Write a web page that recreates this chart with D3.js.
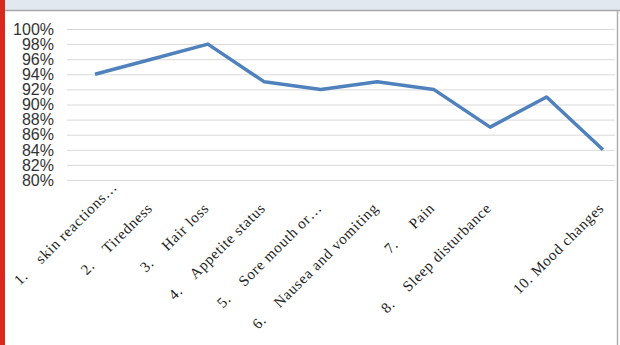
<!DOCTYPE html>
<html>
<head>
<meta charset="utf-8">
<script src="https://cdn.jsdelivr.net/npm/d3@7"></script>
<style>
  html, body { margin: 0; padding: 0; background: #fff; }
  svg { display: block; }
</style>
</head>
<body>
<div id="chart"></div>
<script>
// Categories (label 9 is blank in the original chart)
const categories = [
    "1.    skin reactions\u2026",
    "2.    Tiredness",
    "3.    Hair loss",
    "4.    Appetite status",
    "5.    Sore mouth or\u2026",
    "6.    Nausea and vomiting",
    "7.     Pain",
    "8.    Sleep disturbance",
    "",
    "10. Mood changes"
];
const values = [0.94, 0.96, 0.98, 0.93, 0.92, 0.93, 0.92, 0.87, 0.91, 0.84];
const yTicks = [0.80, 0.82, 0.84, 0.86, 0.88, 0.90, 0.92, 0.94, 0.96, 0.98, 1.00];

function drawChart() {
    const W = 620, H = 345;
    const svg = d3.select("#chart").append("svg")
        .attr("width", W)
        .attr("height", H);

    // window frame bits
    svg.append("rect").attr("x", 0).attr("y", 0).attr("width", W).attr("height", 10)
        .attr("fill", "#e2e8f0");
    svg.append("line").attr("x1", 0).attr("x2", W).attr("y1", 10.5).attr("y2", 10.5)
        .attr("stroke", "#a6a6a6").attr("stroke-width", 1.5);
    svg.append("rect").attr("x", 0).attr("y", 0).attr("width", 5).attr("height", H)
        .attr("fill", "#d62a1c");
    svg.append("line").attr("x1", 617.5).attr("x2", 617.5).attr("y1", 10).attr("y2", H)
        .attr("stroke", "#b0b0b0").attr("stroke-width", 1.5);

    const x = d3.scalePoint()
        .domain(d3.range(categories.length))
        .range([95, 603]);

    const y = d3.scaleLinear()
        .domain([0.80, 1.00])
        .range([180, 29]);

    // grid
    svg.append("g")
        .attr("transform", "translate(67,0)")
        .call(d3.axisRight(y).tickValues(yTicks).tickSize(548).tickFormat(""))
        .call(g => g.select(".domain").remove())
        .selectAll("line")
        .attr("stroke", "#d9d9d9");

    // y labels
    svg.append("g")
        .selectAll("text")
        .data(yTicks)
        .enter().append("text")
        .attr("x", 54)
        .attr("y", d => y(d))
        .attr("dy", "0.36em")
        .attr("text-anchor", "end")
        .style("font-family", "'Liberation Sans', Arial, sans-serif")
        .style("font-size", "16px")
        .style("fill", "#333")
        .text(d => d3.format(".0%")(d));

    // line
    const line = d3.line()
        .x((d, i) => x(i))
        .y(d => y(d));

    svg.append("path")
        .datum(values)
        .attr("fill", "none")
        .attr("stroke", "#4f81bd")
        .attr("stroke-width", 3.5)
        .attr("stroke-linejoin", "round")
        .attr("d", line);

    // x labels, rotated; like Excel, push a label that would run off the left edge back in
    const minLeft = 20;
    svg.append("g")
        .selectAll("text")
        .data(categories)
        .enter().append("text")
        .attr("text-anchor", "end")
        .style("white-space", "pre")
        .style("font-family", "'Liberation Serif', 'Times New Roman', serif")
        .style("font-size", "15px")
        .style("letter-spacing", "0.7px")
        .style("fill", "#222")
        .text(d => d)
        .attr("transform", function(d, i) {
            let tx = x(i) + 2, ty = 209;
            const w = this.getComputedTextLength();
            const left = tx - w * Math.SQRT1_2;
            if (left < minLeft) {
                const s = minLeft - left;
                tx += s;
                ty -= s;
            }
            return `translate(${tx},${ty}) rotate(-45)`;
        });
}

drawChart();
</script>
</body>
</html>
